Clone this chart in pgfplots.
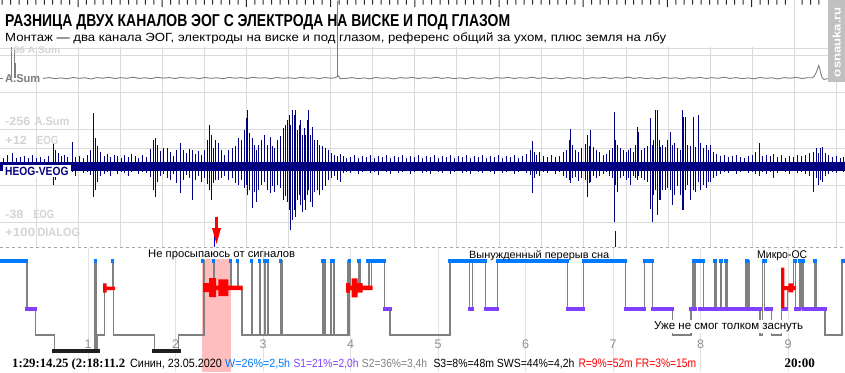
\documentclass[border=0pt]{standalone}
\usepackage{pgfplots}
\pgfplotsset{compat=1.18}
\usepackage{fontspec}
\setmainfont{Liberation Sans}
\newfontfamily\serifbold{Liberation Serif}
\usepackage{graphicx}
\definecolor{eog}{RGB}{0,0,128}
\definecolor{dlg}{RGB}{0,0,210}
\definecolor{wcol}{RGB}{0,122,255}
\definecolor{s1col}{RGB}{128,64,255}
\definecolor{s2col}{RGB}{128,128,128}
\definecolor{s3col}{RGB}{30,30,30}
\definecolor{remcol}{RGB}{255,0,0}
\definecolor{pinkc}{RGB}{255,190,190}
\definecolor{gridc}{RGB}{218,218,218}
\definecolor{hourc}{RGB}{226,226,226}
\definecolor{lablight}{RGB}{212,212,212}
\definecolor{wmc}{RGB}{192,192,192}
\definecolor{asum}{RGB}{125,125,125}
\definecolor{dashc}{RGB}{165,165,165}
\definecolor{hlab}{RGB}{145,145,145}
\definecolor{tickc}{RGB}{40,40,40}
\newcommand{\fit}[3]{\resizebox{#1pt}{#2pt}{#3}}
\newcommand{\hr}[1]{\fontsize{12.5}{12.5}\selectfont #1}
\pgfplotsset{
 vseg/.style={draw=none, mark=none, forget plot, error bars/y dir=plus, error bars/y explicit, error bars/error mark=none, error bars/error bar style={draw=#1, solid, line width=1pt}},
 hseg/.style={draw=none, mark=none, forget plot, error bars/x dir=plus, error bars/x explicit, error bars/error mark=none, error bars/error bar style={draw=#1, solid, line width=1pt}},
}
\begin{document}
\begin{tikzpicture}
\begin{axis}[
 at={(0pt,0pt)}, anchor=south west, scale only axis,
 width=845pt, height=372pt,
 xmin=0, xmax=845, ymin=0, ymax=372, y dir=reverse,
 hide axis,
 unbounded coords=jump, clip=false,
]
% pink marker region
\addplot[fill=pinkc, draw=none, forget plot] coordinates {(202.3,259) (230.7,259) (230.7,372) (202.3,372)};
% grid
\addplot[vseg=gridc] table[x=x, y=y, y error plus=e, row sep=\\]{x y e\\ 36 47 200\\ 78 47 200\\ 120 47 200\\ 162 47 200\\ 204 47 200\\ 246 47 200\\ 288 47 200\\ 330 47 200\\ 372 47 200\\ 414 47 200\\ 456 47 200\\ 499 47 200\\ 541 47 200\\ 583 47 200\\ 626 47 200\\ 668 47 200\\ 710 47 200\\ 752 47 200\\ 794 47 200\\ 836 82 165\\};
\addplot[fill=gridc, draw=none, forget plot] coordinates {(793.5,0)(794.5,0)(794.5,48)(793.5,48)};
\addplot[hseg=gridc] table[x=x, y=y, x error plus=e, row sep=\\]{x y e\\ 0 48 845\\ 0 55 845\\ 0 92 845\\ 0 129 845\\ 0 148 845\\ 0 185 845\\ 0 222 845\\};
\addplot[vseg=hourc] table[x=x, y=y, y error plus=e, row sep=\\]{x y e\\ 88 248 124\\ 175.5 248 124\\ 263 248 124\\ 350.5 248 124\\ 438 248 124\\ 525.5 248 124\\ 613 248 124\\ 700.5 248 124\\ 788 248 124\\};
% dashed separator
\addplot[dashc, dashed, line width=0.8pt, forget plot] coordinates {(0,247.5) (845,247.5)};
% A.Sum trace
\addplot[asum, line width=0.9pt, forget plot] coordinates {(0,78.5) (3,78.5)};
\addplot[vseg=asum] table[x=x, y=y, y error plus=e, row sep=\\]{x y e\\ 11.7 47 31\\ 14.3 50 28\\ 15.8 63 15\\};
\addplot[fill=asum, draw=none, forget plot] coordinates {(337.1,0.5)(338.2,0.5)(338.2,77)(337.1,77)};
\addplot[asum, line width=0.9pt, forget plot] table[row sep=\\]{x y\\
43 78.4\\ 49 77.6\\ 55 78.6\\ 61 77.9\\ 67 78.8\\ 73 77.5\\ 79 78.3\\ 85 77.8\\ 91 78.9\\ 97 77.6\\ 103 78.2\\ 109 77.4\\ 115 78.5\\ 121 77.7\\ 127 78.3\\ 133 77.2\\ 139 78.4\\ 145 77.8\\ 151 78.6\\ 157 77.3\\ 163 78.1\\ 169 77.6\\ 175 78.5\\ 181 77.4\\ 187 78.2\\ 193 77.7\\ 199 78.6\\ 205 77.5\\ 211 78.3\\ 217 77.8\\ 223 78.7\\ 229 77.4\\ 235 78.2\\ 241 77.6\\ 247 78.5\\ 253 77.3\\ 259 78.1\\ 265 77.7\\ 271 78.6\\ 277 77.5\\ 283 78.3\\ 289 77.8\\ 295 78.4\\ 301 77.4\\ 307 78.2\\ 313 77.7\\ 319 78.6\\ 325 77.5\\ 331 78.2\\ 335 77.8\\ 337.6 76.5\\ 338.6 76\\ 340 78.6\\
346 78.4\\ 352 77.6\\ 358 78.6\\ 364 77.9\\ 370 78.8\\ 376 77.5\\ 382 78.3\\ 388 77.8\\ 394 78.9\\ 400 77.6\\ 406 78.2\\ 412 77.4\\ 418 78.5\\ 424 77.7\\ 430 78.3\\ 436 77.2\\ 442 78.4\\ 448 77.6\\ 454 78.6\\ 460 77.9\\ 466 78.8\\ 472 77.5\\ 478 78.3\\ 484 77.8\\ 490 78.9\\ 496 77.6\\ 502 78.2\\ 508 77.4\\ 514 78.5\\ 520 77.7\\ 526 78.3\\ 532 77.2\\ 538 78.4\\ 544 77.6\\ 550 78.6\\ 556 77.9\\ 562 78.8\\ 568 77.5\\ 574 78.3\\ 580 77.8\\ 586 78.9\\ 592 77.6\\ 598 78.2\\ 604 77.4\\ 610 78.5\\ 616 77.7\\ 622 78.3\\ 628 77.2\\ 634 78.4\\ 640 77.6\\ 646 78.6\\ 652 77.9\\ 658 78.8\\ 664 77.5\\ 670 78.3\\ 676 77.8\\ 682 78.9\\ 688 77.6\\ 694 78.2\\ 700 77.4\\ 706 78.5\\ 712 77.7\\ 718 78.3\\ 724 77.2\\ 730 78.4\\ 736 77.6\\ 742 78.6\\ 748 77.9\\ 754 78.8\\ 760 77.5\\ 766 78.3\\ 772 77.8\\ 778 78.9\\ 784 77.6\\ 790 78.2\\ 796 77.4\\ 802 78.5\\ 808 77.7\\
812 77.8\\ 814 76.5\\ 816 73\\ 817.5 69\\ 818.7 65.5\\ 819.7 68\\ 820.7 73\\ 822 77.5\\ 824 79.5\\ 826 78.8\\ 828 79\\};
% EOG baseline band
\addplot[eog, line width=9pt, forget plot] coordinates {(0,166) (845,166)};
% EOG deflections: x, top, bottom
\addplot[vseg=eog] table[x=x, y=t, y error plus expr=\thisrow{b}-\thisrow{t}, row sep=\\]{x t b\\
3 158 172\\ 7 155 171\\ 12 153 173\\ 16 158 174\\ 20 157 171\\ 24 156 172\\ 28 158 173\\ 32 155 171\\ 36 158 172\\ 40 157 174\\ 44 159 172\\ 48 156 171\\ 53 143 185\\ 55 150 180\\ 58 153 172\\ 61 156 174\\ 64 155 171\\ 67 157 173\\ 72 142 172\\ 75 157 176\\ 79 156 171\\ 83 158 173\\ 87 155 172\\ 90 150 175\\ 93 113 197\\ 95 138 190\\ 97 146 182\\ 100 152 176\\ 104 156 174\\ 107 154 172\\ 110 157 176\\ 114 155 171\\ 117 156 174\\ 121 158 172\\ 124 155 173\\ 128 157 176\\ 131 154 172\\ 135 156 171\\ 138 158 174\\ 142 155 172\\ 146 157 173\\ 150 149 177\\ 153 140 190\\ 155 138 197\\ 157 145 182\\ 160 151 176\\ 163 148 174\\ 167 148 178\\ 170 152 180\\ 173 156 174\\ 176 150 183\\ 180 143 193\\ 183 150 180\\ 186 153 175\\ 189 149 178\\ 192 150 200\\ 195 154 180\\ 198 151 176\\ 201 155 182\\ 204 150 178\\ 207 140 184\\ 209 125 190\\ 211 135 200\\ 213 148 183\\ 215 140 180\\ 218 143 180\\ 221 150 178\\ 224 155 176\\ 228 150 180\\ 232 148 178\\ 235 146 183\\ 238 138 185\\ 241 140 180\\ 244 130 188\\ 246 118 185\\ 247 110 195\\ 249 133 190\\ 252 138 208\\ 254 145 192\\ 256 150 202\\ 258 145 190\\ 261 140 185\\ 264 135 182\\ 267 145 190\\ 270 137 193\\ 272 146 186\\ 274 148 192\\ 277 140 185\\ 280 136 188\\ 283 128 200\\ 285 125 196\\ 287 120 202\\ 289 115 210\\ 290 125 230\\ 292 110 220\\ 294 115 210\\ 295 110 217\\ 297 130 200\\ 299 125 195\\ 300 120 205\\ 302 135 212\\ 304 128 200\\ 305 135 210\\ 307 120 195\\ 308 110 190\\ 310 135 202\\ 312 127 207\\ 314 140 192\\ 317 140 190\\ 319 145 195\\ 322 146 190\\ 325 148 186\\ 328 150 180\\ 331 153 178\\ 334 155 176\\ 337 156 180\\ 340 154 182\\ 343 156 173\\ 346 158 172\\
350 157 173\\ 354 155 171\\ 358 158 174\\ 362 156 172\\ 366 157 171\\ 370 155 173\\ 374 158 172\\ 378 156 175\\ 382 157 171\\ 386 155 172\\ 390 158 174\\ 394 156 171\\ 398 157 173\\ 402 155 172\\ 406 158 171\\ 410 156 174\\ 414 157 172\\ 418 155 171\\ 422 158 173\\ 426 156 172\\ 430 157 174\\ 434 155 171\\ 438 158 172\\ 442 156 173\\ 446 157 171\\ 450 155 174\\ 454 158 172\\ 458 156 171\\ 462 157 173\\ 466 155 172\\ 470 158 174\\ 474 156 171\\ 478 157 172\\ 482 155 173\\ 486 158 171\\ 490 156 172\\ 494 157 174\\ 498 155 171\\ 502 158 173\\ 506 156 172\\ 510 157 171\\ 514 155 174\\ 518 158 172\\ 522 156 171\\ 526 154 173\\ 530 150 175\\ 532 141 193\\ 534 152 178\\ 536 155 174\\ 539 152 176\\ 543 156 172\\ 547 157 173\\ 551 155 171\\ 555 157 174\\ 559 156 172\\ 563 152 176\\ 566 150 178\\ 569 140 180\\ 570 129 183\\ 572 145 178\\ 575 150 177\\ 578 152 181\\ 581 148 178\\ 585 144 180\\ 587 135 197\\ 589 146 183\\ 590 130 182\\ 593 147 176\\ 596 150 178\\ 599 152 176\\ 603 155 174\\ 606 154 172\\ 609 150 176\\ 612 148 178\\ 614 112 222\\ 615 140 185\\ 617 145 192\\ 620 148 178\\ 623 150 176\\ 626 152 180\\ 628 150 178\\ 630 148 185\\ 633 152 176\\ 635 145 178\\ 637 127 180\\ 638 132 176\\ 641 150 178\\ 644 148 180\\ 647 146 182\\ 650 118 209\\ 652 145 222\\ 653 140 195\\ 655 110 190\\ 657 110 215\\ 659 140 200\\ 660 147 200\\ 662 145 190\\ 665 147 190\\ 667 140 188\\ 670 132 190\\ 672 145 205\\ 674 143 195\\ 677 148 186\\ 680 150 195\\ 682 110 210\\ 683 117 210\\ 685 117 190\\ 687 145 185\\ 690 146 200\\ 693 117 190\\ 695 147 192\\ 698 115 182\\ 700 143 190\\ 703 148 185\\ 706 145 188\\ 708 150 182\\ 710 145 182\\ 713 152 178\\ 716 154 176\\ 720 156 174\\ 724 155 172\\ 728 157 173\\ 732 156 171\\ 736 155 174\\ 740 157 172\\ 744 158 171\\ 748 156 173\\ 752 155 172\\ 755 152 174\\ 759 143 176\\ 762 156 172\\ 766 155 174\\ 770 156 172\\ 773 154 178\\ 777 157 173\\ 781 155 171\\ 785 158 172\\ 789 156 174\\ 793 157 171\\ 797 155 173\\ 801 156 172\\ 805 155 174\\ 809 153 176\\ 813 152 192\\ 816 148 178\\ 818 153 185\\ 820 148 180\\ 822 147 182\\ 825 153 176\\ 828 155 174\\ 832 157 172\\ 836 156 173\\ 840 158 171\\ 843 157 172\\};
% dialog markers
\addplot[vseg=dlg] table[x=x, y=y, y error plus=e, row sep=\\]{x y e\\ 214 231 16\\ 615 231 16\\};
% red arrow
\addplot[remcol, line width=3.3pt, forget plot] coordinates {(216.6,216.7) (216.6,229)};
\addplot[fill=remcol, draw=none, forget plot] coordinates {(212,228) (221,228) (216.5,244)};
% hypnogram step line
\addplot[const plot, s2col, line width=1.1pt, forget plot] coordinates {
(0,261)(27,309)(35.5,335)(54.3,351)(95,261)(96.7,351)(97.3,335)(104.7,288)(112.3,261)(113.3,335)(154.3,351)(178.3,335)(204,261)(204.8,288)(213.5,261)(214.5,288)(230.5,261)(231.5,288)(237.3,261)(238.3,288)(242,335)(251.3,261)(252.3,335)(259.3,261)(260.3,335)(264.3,261)(265.3,335)(267.3,261)(268.3,335)(281,261)(282.3,335)(322.3,261)(323.3,335)(324.3,261)(325.3,335)(330.7,261)(331.7,335)(333.3,261)(334.3,335)(347.7,261)(348.5,335)(349.3,261)(350.3,288)(359,261)(360,288)(368.3,261)(369,288)(371.7,261)(384.3,309)(390,335)(450,261)(469.3,309)(472.3,261)(485.3,309)(497.7,261)(567.7,309)(583.3,261)(625.7,309)(644.3,261)(652.3,309)(672.7,335)(691,309)(692.3,261)(693,309)(694,261)(694.7,309)(695.7,261)(703.3,309)(714.3,261)(715,309)(716,261)(716.7,309)(720.7,261)(721.5,309)(726,261)(727,309)(746,261)(747,309)(748.3,261)(749,309)(760,335)(762.7,261)(764.7,309)(771.7,335)(781.7,309)(787.7,288)(793.3,261)(795.7,309)(800,261)(801,309)(802.7,261)(803.5,309)(815,261)(816,309)(825,335)(842,261)(845,261)};
% stage bars
\addplot[s3col, line width=3.3pt, forget plot] coordinates {(52.3,351)(99.7,351)(nan,nan)(152.3,351)(180.7,351)};
\addplot[s1col, line width=3.3pt, forget plot] coordinates {(25,309)(36.7,309)(nan,nan)(383,309)(391.7,309)(nan,nan)(468.3,309)(474,309)(nan,nan)(484.3,309)(498.7,309)(nan,nan)(566,309)(585,309)(nan,nan)(624,309)(645.7,309)(nan,nan)(651,309)(674,309)(nan,nan)(688.7,309)(696.7,309)(nan,nan)(698.3,309)(761.7,309)(nan,nan)(764,309)(772.7,309)(nan,nan)(781.7,309)(787.7,309)(nan,nan)(794.3,309)(800.7,309)(nan,nan)(801.7,309)(826.7,309)};
\addplot[wcol, line width=3.3pt, forget plot] coordinates {(0,261)(27.7,261)(nan,nan)(94,261)(97,261)(nan,nan)(111,261)(113.7,261)(nan,nan)(201.3,261)(204,261)(nan,nan)(212.3,261)(215,261)(nan,nan)(229,261)(231.7,261)(nan,nan)(236,261)(238.7,261)(nan,nan)(250,261)(252.7,261)(nan,nan)(258.3,261)(260.7,261)(nan,nan)(262.7,261)(269,261)(nan,nan)(279.3,261)(282.3,261)(nan,nan)(321,261)(325.7,261)(nan,nan)(330,261)(334.7,261)(nan,nan)(348,261)(350.7,261)(nan,nan)(357,261)(360.7,261)(nan,nan)(366,261)(385.7,261)(nan,nan)(448.3,261)(486.7,261)(nan,nan)(496,261)(568.7,261)(nan,nan)(582,261)(626.7,261)(nan,nan)(643.3,261)(654,261)(nan,nan)(691.7,261)(705,261)(nan,nan)(713.3,261)(717.3,261)(nan,nan)(719.3,261)(722.7,261)(nan,nan)(724.3,261)(727.7,261)(nan,nan)(745,261)(749.3,261)(nan,nan)(762,261)(766.7,261)(nan,nan)(793.3,261)(796.7,261)(nan,nan)(798.3,261)(805,261)(nan,nan)(813.3,261)(816.7,261)(nan,nan)(840.7,261)(845,261)};
% REM blocks
\addplot[fill=remcol, draw=none, forget plot] coordinates {
(103,283.3)(106.7,283.3)(106.7,292.7)(103,292.7)(nan,nan)
(106.7,286.5)(115,286.5)(115,290)(106.7,290)(nan,nan)
(203,283)(209,283)(209,292)(203,292)(nan,nan)
(209,278)(216,278)(216,297)(209,297)(nan,nan)
(218.3,279.3)(228.3,279.3)(228.3,296)(218.3,296)(nan,nan)
(216,285.7)(242.7,285.7)(242.7,290)(216,290)(nan,nan)
(346,283)(350,283)(350,292.7)(346,292.7)(nan,nan)
(351.7,278.3)(357.7,278.3)(357.7,297.3)(351.7,297.3)(nan,nan)
(357.7,283)(362.7,283)(362.7,292.7)(357.7,292.7)(nan,nan)
(350,285.7)(372.7,285.7)(372.7,290)(350,290)(nan,nan)
(781,267.7)(784.3,267.7)(784.3,308.3)(781,308.3)(nan,nan)
(788.3,283.3)(793.3,283.3)(793.3,292.3)(788.3,292.3)(nan,nan)
(781,286)(795.7,286)(795.7,290)(781,290)};
% ruler ticks along the top, as one comb-shaped filled outline (x-0.5 .. x+0.5)
\addplot[fill=tickc, draw=none, forget plot] coordinates {
(1.7,0)(1.7,4.5)(2.7,4.5)(2.7,0)(10.1,0)(10.1,4.5)(11.1,4.5)(11.1,0)(18.5,0)(18.5,4.5)(19.5,4.5)(19.5,0)(27,0)(27,4.5)(28,4.5)(28,0)(35.4,0)(35.4,4.5)(36.4,4.5)(36.4,0)(43.8,0)(43.8,4.5)(44.8,4.5)(44.8,0)(52.2,0)(52.2,4.5)(53.2,4.5)(53.2,0)(60.6,0)(60.6,4.5)(61.6,4.5)(61.6,0)(69.1,0)(69.1,4.5)(70.1,4.5)(70.1,0)(77.5,0)(77.5,7)(78.5,7)(78.5,0)
(85.9,0)(85.9,4.5)(86.9,4.5)(86.9,0)(94.3,0)(94.3,4.5)(95.3,4.5)(95.3,0)(102.7,0)(102.7,4.5)(103.7,4.5)(103.7,0)(111.2,0)(111.2,4.5)(112.2,4.5)(112.2,0)(119.6,0)(119.6,4.5)(120.6,4.5)(120.6,0)(128,0)(128,4.5)(129,4.5)(129,0)(136.4,0)(136.4,4.5)(137.4,4.5)(137.4,0)(144.8,0)(144.8,4.5)(145.8,4.5)(145.8,0)(153.3,0)(153.3,4.5)(154.3,4.5)(154.3,0)(161.7,0)(161.7,7)(162.7,7)(162.7,0)
(170.1,0)(170.1,4.5)(171.1,4.5)(171.1,0)(178.5,0)(178.5,4.5)(179.5,4.5)(179.5,0)(186.9,0)(186.9,4.5)(187.9,4.5)(187.9,0)(195.4,0)(195.4,4.5)(196.4,4.5)(196.4,0)(203.8,0)(203.8,4.5)(204.8,4.5)(204.8,0)(212.2,0)(212.2,4.5)(213.2,4.5)(213.2,0)(220.6,0)(220.6,4.5)(221.6,4.5)(221.6,0)(229,0)(229,4.5)(230,4.5)(230,0)(237.5,0)(237.5,4.5)(238.5,4.5)(238.5,0)(245.9,0)(245.9,7)(246.9,7)(246.9,0)
(254.3,0)(254.3,4.5)(255.3,4.5)(255.3,0)(262.7,0)(262.7,4.5)(263.7,4.5)(263.7,0)(271.1,0)(271.1,4.5)(272.1,4.5)(272.1,0)(279.6,0)(279.6,4.5)(280.6,4.5)(280.6,0)(288,0)(288,4.5)(289,4.5)(289,0)(296.4,0)(296.4,4.5)(297.4,4.5)(297.4,0)(304.8,0)(304.8,4.5)(305.8,4.5)(305.8,0)(313.2,0)(313.2,4.5)(314.2,4.5)(314.2,0)(321.7,0)(321.7,4.5)(322.7,4.5)(322.7,0)(330.1,0)(330.1,7)(331.1,7)(331.1,0)
(338.5,0)(338.5,4.5)(339.5,4.5)(339.5,0)(346.9,0)(346.9,4.5)(347.9,4.5)(347.9,0)(355.3,0)(355.3,4.5)(356.3,4.5)(356.3,0)(363.8,0)(363.8,4.5)(364.8,4.5)(364.8,0)(372.2,0)(372.2,4.5)(373.2,4.5)(373.2,0)(380.6,0)(380.6,4.5)(381.6,4.5)(381.6,0)(389,0)(389,4.5)(390,4.5)(390,0)(397.4,0)(397.4,4.5)(398.4,4.5)(398.4,0)(405.9,0)(405.9,4.5)(406.9,4.5)(406.9,0)(414.3,0)(414.3,7)(415.3,7)(415.3,0)
(422.7,0)(422.7,4.5)(423.7,4.5)(423.7,0)(431.1,0)(431.1,4.5)(432.1,4.5)(432.1,0)(439.5,0)(439.5,4.5)(440.5,4.5)(440.5,0)(448,0)(448,4.5)(449,4.5)(449,0)(456.4,0)(456.4,4.5)(457.4,4.5)(457.4,0)(464.8,0)(464.8,4.5)(465.8,4.5)(465.8,0)(473.2,0)(473.2,4.5)(474.2,4.5)(474.2,0)(481.6,0)(481.6,4.5)(482.6,4.5)(482.6,0)(490.1,0)(490.1,4.5)(491.1,4.5)(491.1,0)(498.5,0)(498.5,7)(499.5,7)(499.5,0)
(506.9,0)(506.9,4.5)(507.9,4.5)(507.9,0)(515.3,0)(515.3,4.5)(516.3,4.5)(516.3,0)(523.7,0)(523.7,4.5)(524.7,4.5)(524.7,0)(532.2,0)(532.2,4.5)(533.2,4.5)(533.2,0)(540.6,0)(540.6,4.5)(541.6,4.5)(541.6,0)(549,0)(549,4.5)(550,4.5)(550,0)(557.4,0)(557.4,4.5)(558.4,4.5)(558.4,0)(565.8,0)(565.8,4.5)(566.8,4.5)(566.8,0)(574.3,0)(574.3,4.5)(575.3,4.5)(575.3,0)(582.7,0)(582.7,7)(583.7,7)(583.7,0)
(591.1,0)(591.1,4.5)(592.1,4.5)(592.1,0)(599.5,0)(599.5,4.5)(600.5,4.5)(600.5,0)(607.9,0)(607.9,4.5)(608.9,4.5)(608.9,0)(616.4,0)(616.4,4.5)(617.4,4.5)(617.4,0)(624.8,0)(624.8,4.5)(625.8,4.5)(625.8,0)(633.2,0)(633.2,4.5)(634.2,4.5)(634.2,0)(641.6,0)(641.6,4.5)(642.6,4.5)(642.6,0)(650,0)(650,4.5)(651,4.5)(651,0)(658.5,0)(658.5,4.5)(659.5,4.5)(659.5,0)(666.9,0)(666.9,7)(667.9,7)(667.9,0)
(675.3,0)(675.3,4.5)(676.3,4.5)(676.3,0)(683.7,0)(683.7,4.5)(684.7,4.5)(684.7,0)(692.1,0)(692.1,4.5)(693.1,4.5)(693.1,0)(700.6,0)(700.6,4.5)(701.6,4.5)(701.6,0)(709,0)(709,4.5)(710,4.5)(710,0)(717.4,0)(717.4,4.5)(718.4,4.5)(718.4,0)(725.8,0)(725.8,4.5)(726.8,4.5)(726.8,0)(734.2,0)(734.2,4.5)(735.2,4.5)(735.2,0)(742.7,0)(742.7,4.5)(743.7,4.5)(743.7,0)(751.1,0)(751.1,7)(752.1,7)(752.1,0)
(759.5,0)(759.5,4.5)(760.5,4.5)(760.5,0)(767.9,0)(767.9,4.5)(768.9,4.5)(768.9,0)(776.3,0)(776.3,4.5)(777.3,4.5)(777.3,0)(784.8,0)(784.8,4.5)(785.8,4.5)(785.8,0)(801.6,0)(801.6,4.5)(802.6,4.5)(802.6,0)(810,0)(810,4.5)(811,4.5)(811,0)(818.4,0)(818.4,4.5)(819.4,4.5)(819.4,0)};
% watermark box
\addplot[fill=wmc, draw=none, forget plot] coordinates {(828,0)(845,0)(845,82)(828,82)};
% ---- texts ----
\node[anchor=base west, inner sep=0pt, text=lablight] at (10,53.5) {\fit{50}{6.8}{\bfseries -96 A.Sum}};
\node[anchor=base west, inner sep=0pt] at (5,27) {\fit{505}{12}{\bfseries РАЗНИЦА ДВУХ КАНАЛОВ ЭОГ С ЭЛЕКТРОДА НА ВИСКЕ И ПОД ГЛАЗОМ}};
\node[anchor=base west, inner sep=0pt] at (5,41.7) {\fit{661}{8.8}{Монтаж — два канала ЭОГ, электроды на виске и под глазом, референс общий за ухом, плюс земля на лбу}};
\node[anchor=base, inner sep=0pt, text=white, rotate=90] at (840.5,42) {\fit{70}{8}{\bfseries osnauka.ru}};
\node[anchor=base west, inner sep=0pt, text=asum] at (5,82.3) {\fit{35}{8}{\bfseries A.Sum}};
\node[anchor=base west, inner sep=0pt, text=lablight] at (5,125) {\fit{25}{8.3}{\bfseries -256}};
\node[anchor=base west, inner sep=0pt, text=lablight] at (34.3,125) {\fit{35}{8.3}{\bfseries A.Sum}};
\node[anchor=base west, inner sep=0pt, text=lablight] at (5,144.3) {\fit{22}{8.3}{\bfseries +12}};
\node[anchor=base west, inner sep=0pt, text=lablight] at (36.7,144.3) {\fit{21.6}{8.3}{\bfseries EOG}};
\node[anchor=base west, inner sep=0pt, text=lablight] at (5,218.3) {\fit{18.3}{8.3}{\bfseries -38}};
\node[anchor=base west, inner sep=0pt, text=lablight] at (33.3,218.3) {\fit{20.7}{8.3}{\bfseries EOG}};
\node[anchor=base west, inner sep=0pt, text=lablight] at (5,236.7) {\fit{30}{8.3}{\bfseries +100}};
\node[anchor=base west, inner sep=0pt, text=lablight] at (37.3,236.7) {\fit{42.7}{8.3}{\bfseries DIALOG}};
\node[anchor=base west, fill=white, inner xsep=2pt, inner ysep=2.2pt, text=eog] at (3,175) {\fit{63.3}{8.3}{\bfseries HEOG-VEOG}};
% hypnogram texts
\node[anchor=base west, inner sep=0pt] at (148,257.5) {\fit{147}{7.6}{Не просыпаюсь от сигналов}};
\node[anchor=base west, inner sep=0pt] at (469,258) {\fit{140}{7.8}{Вынужденный перерыв сна}};
\node[anchor=base west, inner sep=0pt] at (757,258) {\fit{50}{7.8}{Микро-ОС}};
\node[anchor=base west, fill=white, inner xsep=1pt, inner ysep=1.5pt] at (653,329.5) {\fit{149}{8}{Уже не смог толком заснуть}};
\node[anchor=base, inner sep=0pt, text=hlab] at (88,348.3) {\hr{1}};
\node[anchor=base, inner sep=0pt, text=hlab] at (175.5,348.3) {\hr{2}};
\node[anchor=base, inner sep=0pt, text=hlab] at (263,348.3) {\hr{3}};
\node[anchor=base, inner sep=0pt, text=hlab] at (350.5,348.3) {\hr{4}};
\node[anchor=base, inner sep=0pt, text=hlab] at (438,348.3) {\hr{5}};
\node[anchor=base, inner sep=0pt, text=hlab] at (525.5,348.3) {\hr{6}};
\node[anchor=base, inner sep=0pt, text=hlab] at (613,348.3) {\hr{7}};
\node[anchor=base, inner sep=0pt, text=hlab] at (700.5,348.3) {\hr{8}};
\node[anchor=base, inner sep=0pt, text=hlab] at (788,348.3) {\hr{9}};
% status line
\node[anchor=base west, inner sep=0pt] at (12,367.7) {\resizebox{113pt}{!}{\serifbold\bfseries\fontsize{13}{13}\selectfont 1:29:14.25 (2:18:11.2}};
\node[anchor=base west, inner sep=0pt] at (130,367.7) {\fit{91.7}{8.4}{Синин, 23.05.2020}};
\node[anchor=base west, inner sep=0pt, text=wcol] at (225,367.7) {\fit{65}{8.6}{W=26\%=2,5h}};
\node[anchor=base west, inner sep=0pt, text=s1col] at (293.3,367.7) {\fit{65}{8.6}{S1=21\%=2,0h}};
\node[anchor=base west, inner sep=0pt, text=s2col] at (361.7,367.7) {\fit{65.3}{8.6}{S2=36\%=3,4h}};
\node[anchor=base west, inner sep=0pt] at (433.3,367.7) {\fit{141}{8.6}{S3=8\%=48m SWS=44\%=4,2h}};
\node[anchor=base west, inner sep=0pt, text=remcol] at (578.3,367.7) {\fit{117.7}{8.6}{R=9\%=52m FR=3\%=15m}};
\node[anchor=base west, inner sep=0pt] at (784.3,367.7) {\serifbold\bfseries\fontsize{13}{13}\selectfont 20:00};
\end{axis}
\pgfresetboundingbox
\path[use as bounding box] (0,0) rectangle (845pt,372pt);
\end{tikzpicture}
\end{document}
